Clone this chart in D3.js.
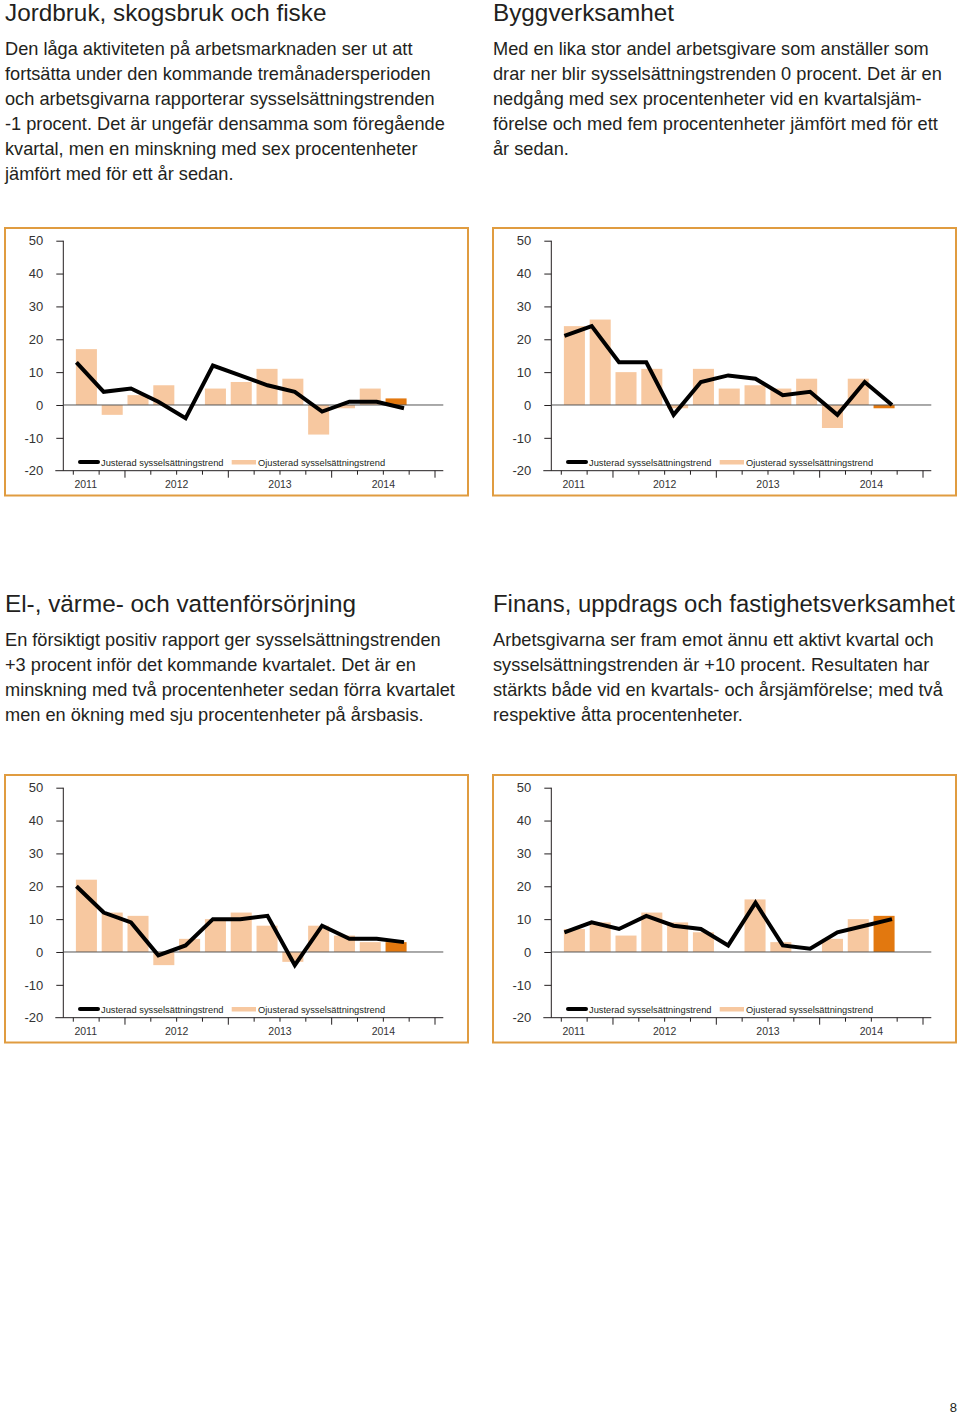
<!DOCTYPE html>
<html><head><meta charset="utf-8">
<script src="https://cdn.jsdelivr.net/npm/d3@7"></script>
<style>
body{margin:0;background:#fff}
svg{display:block}
text{font-family:"Liberation Sans",Arial,Helvetica,sans-serif}
</style>
</head><body>
<svg id="page" width="960" height="1416"></svg>
<script>
// ---------- data ----------
const quarters = ["2011K1","2011K2","2011K3","2011K4","2012K1","2012K2","2012K3","2012K4","2013K1","2013K2","2013K3","2013K4","2014K1"];
const yTicks = [50,40,30,20,10,0,-10,-20];
const yearLabels = ["2011","2012","2013","2014"];
const legendLabels = ["Justerad sysselsättningstrend","Ojusterad sysselsättningstrend"];

const titles = [
  "Jordbruk, skogsbruk och fiske",
  "Byggverksamhet",
  "El-, värme- och vattenförsörjning",
  "Finans, uppdrags och fastighetsverksamhet"
];
const texts = [
  ["Den låga aktiviteten på arbetsmarknaden ser ut att",
   "fortsätta under den kommande tremånadersperioden",
   "och arbetsgivarna rapporterar sysselsättningstrenden",
   "-1 procent. Det är ungefär densamma som föregående",
   "kvartal, men en minskning med sex procentenheter",
   "jämfört med för ett år sedan."],
  ["Med en lika stor andel arbetsgivare som anställer som",
   "drar ner blir sysselsättningstrenden 0 procent. Det är en",
   "nedgång med sex procentenheter vid en kvartalsjäm-",
   "förelse och med fem procentenheter jämfört med för ett",
   "år sedan."],
  ["En försiktigt positiv rapport ger sysselsättningstrenden",
   "+3 procent inför det kommande kvartalet. Det är en",
   "minskning med två procentenheter sedan förra kvartalet",
   "men en ökning med sju procentenheter på årsbasis."],
  ["Arbetsgivarna ser fram emot ännu ett aktivt kvartal och",
   "sysselsättningstrenden är +10 procent. Resultaten har",
   "stärkts både vid en kvartals- och årsjämförelse; med två",
   "respektive åtta procentenheter."]
];

const ojusterad1 = [17,-3,3,6,0,5,7,11,8,-9,-1,5,2];
const justerad1  = [13,4,5,1,-4,12,9,6,4,-2,1,1,-1];
const ojusterad2 = [24,26,10,11,-1,11,5,6,5,8,-7,8,-1];
const justerad2  = [21,24,13,13,-3,7,9,8,3,4,-3,7,0];
const ojusterad3 = [22,12,11,-4,4,10,12,8,-3,8,5,3,3];
const justerad3  = [20,12,9,-1,2,10,10,11,-4,8,4,4,3];
const ojusterad4 = [7,9,5,12,9,6,0,16,3,0,4,10,11];
const justerad4  = [6,9,7,11,8,7,2,15,2,1,6,8,10];

const pageNumber = "8";

// ---------- styles ----------
const C = {
  text:"#231f20", frame:"#E09C40", bar:"#F7C8A0", barLast:"#E2780F",
  axis:"#231f20", zero:"#555", label:"#333"
};

const svg = d3.select("#page");

const panels = [
  {x:5,   ty:0,   cy:228, title:titles[0], text:texts[0], ojust:ojusterad1, just:justerad1},
  {x:493, ty:0,   cy:228, title:titles[1], text:texts[1], ojust:ojusterad2, just:justerad2},
  {x:5,   ty:591, cy:775, title:titles[2], text:texts[2], ojust:ojusterad3, just:justerad3},
  {x:493, ty:591, cy:775, title:titles[3], text:texts[3], ojust:ojusterad4, just:justerad4}
];

panels.forEach(p => {
  // heading + text
  const t = svg.append("text").attr("x", p.x).attr("y", p.ty + 20.5)
    .attr("font-size", 24.3).attr("fill", C.text).text(p.title);
  const w = t.node().getComputedTextLength();
  if (w > 462) t.attr("font-size", 24.3 * 462 / w);
  svg.append("g").selectAll("text").data(p.text).join("text")
    .attr("x", p.x).attr("y", (d,i) => p.ty + 55 + i*25)
    .attr("font-size", 18.2).attr("fill", C.text).text(d => d);

  const g = svg.append("g").attr("transform", `translate(${p.x},${p.cy})`);
  // frame
  g.append("rect").attr("x",0).attr("y",0).attr("width",463).attr("height",267.5)
    .attr("fill","none").attr("stroke",C.frame).attr("stroke-width",2);

  const y = d3.scaleLinear().domain([-20,50]).range([242.7,12.7]);
  const sx = d3.scaleLinear().domain([0,14]).range([68.3,430]);
  const xb = d3.scaleBand().domain(quarters).range([sx(0), sx(13)]).paddingInner(0.185).paddingOuter(0.1);
  const xl = d3.scalePoint().domain(quarters).range([sx(0.12), sx(12.8)]);
  const axisX = 58.3;

  // y axis
  const ya = g.append("g").attr("transform",`translate(${axisX},0)`)
    .call(d3.axisLeft(y).tickValues(yTicks).tickSize(7).tickPadding(13).tickFormat(d => String(d)));
  ya.select(".domain").attr("stroke",C.axis).attr("stroke-width",1).attr("d",`M0,${y(50)}V${y(-20)}`);
  ya.selectAll(".tick line").attr("stroke",C.axis);
  ya.selectAll(".tick text").attr("font-size",13).attr("fill",C.label)
    .attr("font-family",'"Liberation Sans",Arial,sans-serif');
  ya.selectAll(".tick").filter(d => d === -20).select("line").remove();

  // bars
  g.append("g").selectAll("rect").data(p.ojust).join("rect")
    .attr("x",(d,i)=>xb(quarters[i])).attr("width",xb.bandwidth())
    .attr("y",d=>y(Math.max(0,d))).attr("height",d=>Math.abs(y(d)-y(0)))
    .attr("fill",(d,i)=> i===quarters.length-1 ? C.barLast : C.bar);

  // zero line
  g.append("line").attr("x1",axisX).attr("x2",sx(14)+8.3).attr("y1",y(0)).attr("y2",y(0))
    .attr("stroke",C.zero).attr("stroke-width",1);

  // x axis (bottom)
  g.append("line").attr("x1",axisX-8).attr("x2",sx(14)+8.3).attr("y1",y(-20)).attr("y2",y(-20))
    .attr("stroke",C.axis).attr("stroke-width",1);
  g.append("g").selectAll("line").data(d3.range(15)).join("line")
    .attr("x1",d=>sx(d)).attr("x2",d=>sx(d))
    .attr("y1",y(-20)).attr("y2",d=> y(-20) + (d%4===2 ? 7 : 4))
    .attr("stroke",C.axis).attr("stroke-width",1);
  g.append("g").selectAll("text").data(yearLabels).join("text")
    .attr("x",(d,i)=> i===0 ? sx(0.48) : sx(4*i)).attr("y",260.3)
    .attr("text-anchor","middle").attr("font-size",10.5).attr("fill",C.label).text(d=>d);

  // line
  g.append("path").datum(p.just)
    .attr("d", d3.line().x((d,i)=>xl(quarters[i])).y(d=>y(d)))
    .attr("fill","none").attr("stroke","#000").attr("stroke-width",4)
    .attr("stroke-linejoin","miter").attr("stroke-linecap","butt");

  // legend
  const lg = g.append("g");
  lg.append("line").attr("x1",75).attr("x2",93).attr("y1",234).attr("y2",234)
    .attr("stroke","#000").attr("stroke-width",4).attr("stroke-linecap","round");
  lg.append("text").attr("x",96).attr("y",237.5).attr("font-size",9.3).attr("fill",C.text).text(legendLabels[0]);
  lg.append("rect").attr("x",226.7).attr("y",232).attr("width",24.3).attr("height",4.5).attr("fill",C.bar);
  lg.append("text").attr("x",253).attr("y",237.5).attr("font-size",9.3).attr("fill",C.text).text(legendLabels[1]);
});

svg.append("text").attr("x",957).attr("y",1412).attr("text-anchor","end")
  .attr("font-size",13).attr("fill",C.text).text(pageNumber);
</script>
</body></html>
